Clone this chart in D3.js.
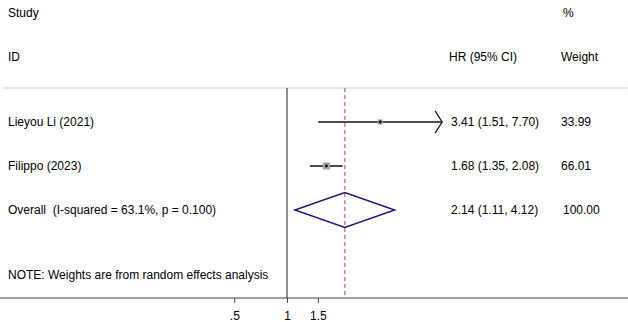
<!DOCTYPE html>
<html>
<head>
<meta charset="utf-8">
<script src="https://cdn.jsdelivr.net/npm/d3@7"></script>
<style>
  body { margin: 0; background: #fff; }
  text { font-family: "Liberation Sans", Arial, sans-serif; font-size: 12px; fill: #000; white-space: pre; }
</style>
</head>
<body>
<div id="chart"></div>
<script>
// study rows
var studies = ['Lieyou Li (2021)', 'Filippo (2023)'];
var hr = [3.41, 1.68];
var ciLow = [1.51, 1.35];
var ciHigh = [7.70, 2.08];
var weights = [33.99, 66.01];

// pooled estimate
var overallLabel = 'Overall  (I-squared = 63.1%, p = 0.100)';
var overall = {hr: 2.14, lo: 1.11, hi: 4.12, weight: 100.00};

var tickValues = [0.5, 1, 1.5];
var tickLabels = ['.5', '1', '1.5'];
var noteText = 'NOTE: Weights are from random effects analysis';

var w = 628, h = 322;
var xClip = 7.7;

function fmt(v) { return v.toFixed(2); }

var svg = d3.select('#chart')
    .append('svg')
    .attr('width', w)
    .attr('height', h);

// log axis as in Stata metan
var xScale = d3.scaleLog()
    .domain([0.5, 1.5])
    .range([234.3, 317.8]);

var rowScale = d3.scaleLinear()
    .domain([0, 2])
    .range([122, 210]);

var boxScale = d3.scaleSqrt()
    .domain([0, 100])
    .range([0, 8.8]);

var topY = 88, axisY = 298;

// header text
svg.append('text').attr('x', 8).attr('y', 17).text('Study');
svg.append('text').attr('x', 8).attr('y', 61).text('ID');
svg.append('text').attr('x', 563).attr('y', 17).text('%');
svg.append('text').attr('x', 449).attr('y', 61).text('HR (95% CI)');
svg.append('text').attr('x', 561).attr('y', 61).text('Weight');

// header rule
svg.append('line')
    .attr('x1', 3).attr('x2', 627)
    .attr('y1', topY).attr('y2', topY)
    .attr('stroke', '#cfcfcf')
    .attr('stroke-width', 1.2);

// no-effect line
svg.append('line')
    .attr('x1', xScale(1)).attr('x2', xScale(1))
    .attr('y1', topY).attr('y2', axisY)
    .attr('stroke', '#444')
    .attr('stroke-width', 1.2);

// overall effect dashed line
svg.append('line')
    .attr('x1', xScale(overall.hr)).attr('x2', xScale(overall.hr))
    .attr('y1', topY).attr('y2', axisY)
    .attr('stroke', '#c47479')
    .attr('stroke-width', 1.3)
    .attr('stroke-dasharray', '4,3');

// x axis
var xAxis = d3.axisBottom(xScale)
    .tickValues(tickValues)
    .tickFormat(function(d, i) { return tickLabels[i]; })
    .tickSize(5)
    .tickPadding(8);

var ax = svg.append('g')
    .attr('transform', 'translate(0,' + axisY + ')')
    .call(xAxis);
ax.select('.domain').remove();
ax.selectAll('.tick line').attr('stroke', '#444');
ax.selectAll('.tick text').style('font-size', '12px').style('font-family', '"Liberation Sans", Arial, sans-serif');
svg.append('line')
    .attr('x1', 0).attr('x2', w)
    .attr('y1', axisY).attr('y2', axisY)
    .attr('stroke', '#444')
    .attr('stroke-width', 1.2);

// study rows
var rows = svg.selectAll('.study')
    .data(studies)
    .enter()
    .append('g')
    .attr('class', 'study');

rows.append('text')
    .attr('x', 8)
    .attr('y', function(d, i) { return rowScale(i) + 4; })
    .text(function(d) { return d; });

rows.append('line')
    .attr('x1', function(d, i) { return xScale(ciLow[i]); })
    .attr('x2', function(d, i) { return xScale(Math.min(ciHigh[i], xClip)); })
    .attr('y1', function(d, i) { return rowScale(i); })
    .attr('y2', function(d, i) { return rowScale(i); })
    .attr('stroke', '#111')
    .attr('stroke-width', 1.3);

// arrow when CI runs off the scale
rows.filter(function(d, i) { return ciHigh[i] >= xClip; })
    .append('path')
    .attr('d', function(d) {
        var i = studies.indexOf(d);
        var x = xScale(xClip), y = rowScale(i);
        return 'M' + (x - 7) + ',' + (y - 11) + 'L' + x + ',' + y + 'L' + (x - 7) + ',' + (y + 11);
    })
    .attr('fill', 'none')
    .attr('stroke', '#111')
    .attr('stroke-width', 1.3);

rows.append('rect')
    .attr('x', function(d, i) { return xScale(hr[i]) - boxScale(weights[i]) / 2; })
    .attr('y', function(d, i) { return rowScale(i) - boxScale(weights[i]) / 2; })
    .attr('width', function(d, i) { return boxScale(weights[i]); })
    .attr('height', function(d, i) { return boxScale(weights[i]); })
    .attr('fill', '#a8a8a8');

rows.append('circle')
    .attr('cx', function(d, i) { return xScale(hr[i]); })
    .attr('cy', function(d, i) { return rowScale(i); })
    .attr('r', 1.4)
    .attr('fill', '#000');

rows.append('text')
    .attr('x', 451)
    .attr('y', function(d, i) { return rowScale(i) + 4; })
    .text(function(d, i) { return fmt(hr[i]) + ' (' + fmt(ciLow[i]) + ', ' + fmt(ciHigh[i]) + ')'; });

rows.append('text')
    .attr('x', 561)
    .attr('y', function(d, i) { return rowScale(i) + 4; })
    .text(function(d, i) { return fmt(weights[i]); });

// overall diamond
var oy = rowScale(2);
svg.append('path')
    .attr('d', 'M' + xScale(overall.lo) + ',' + oy +
               'L' + xScale(overall.hr) + ',' + (oy - 17.5) +
               'L' + xScale(overall.hi) + ',' + oy +
               'L' + xScale(overall.hr) + ',' + (oy + 17.5) + 'Z')
    .attr('fill', 'none')
    .attr('stroke', '#1a1a7a')
    .attr('stroke-width', 1.5);

svg.append('text').attr('x', 8).attr('y', oy + 4).text(overallLabel);
svg.append('text').attr('x', 451).attr('y', oy + 4)
    .text(fmt(overall.hr) + ' (' + fmt(overall.lo) + ', ' + fmt(overall.hi) + ')');
svg.append('text').attr('x', 563).attr('y', oy + 4).text(fmt(overall.weight));

svg.append('text').attr('x', 8).attr('y', 279).text(noteText);
</script>
</body>
</html>
